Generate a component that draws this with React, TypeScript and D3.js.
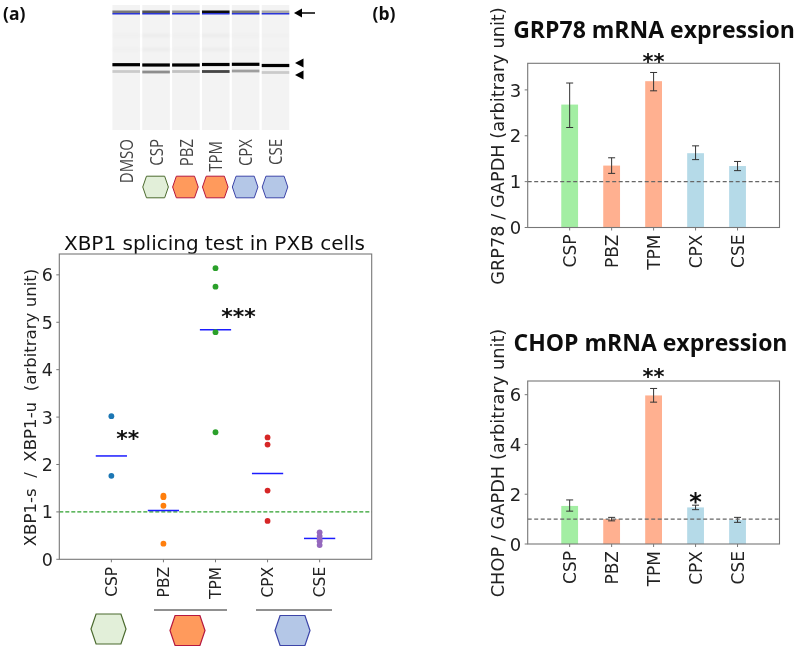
import React from "react";
import * as d3 from "d3";

const scatterCats = ["CSP", "PBZ", "TPM", "CPX", "CSE"];
const scatterColors = ["#1f77b4", "#ff7f0e", "#2ca02c", "#d62728", "#9467bd"];
const scatterPoints = [
  [3.02, 1.76],
  [1.34, 1.31, 1.13, 0.33],
  [6.14, 5.75, 4.79, 2.68],
  [2.57, 2.42, 1.45, 0.81],
  [0.57, 0.49, 0.42, 0.38, 0.3],
];
const scatterMeans = [2.18, 1.03, 4.84, 1.81, 0.44];

const barCats = ["CSP", "PBZ", "TPM", "CPX", "CSE"];
const barColors = ["#a3eea3", "#ffb090", "#ffb090", "#b5dae8", "#b5dae8"];
const grpValues = [2.68, 1.35, 3.19, 1.62, 1.34];
const grpHigh = [3.15, 1.52, 3.38, 1.78, 1.44];
const grpLow = [2.18, 1.18, 2.98, 1.48, 1.24];
const chopValues = [1.53, 1.0, 5.97, 1.47, 0.97];
const chopHigh = [1.77, 1.07, 6.25, 1.56, 1.07];
const chopLow = [1.32, 0.93, 5.7, 1.38, 0.87];

const gelLanes = ["DMSO", "CSP", "PBZ", "TPM", "CPX", "CSE"];
const gelTop = [0.5, 0.65, 0.4, 0.95, 0.5, 0.3];
const gelMainY = [64.7, 65, 65, 64.5, 64.3, 65.5];
const gelLow = [0.17, 0.42, 0.2, 0.72, 0.35, 0.17];
const gelLowY = [71.5, 72, 71.5, 71.5, 71, 72.5];
const gelFaint = [0.015, 0.035, 0.015, 0.035, 0.015, 0.012];
const gelLabelY = [139, 139, 139, 141, 139, 139];
const laneHex = [null, ["#e2efd9", "#4b6a2e"], ["#ff9a5c", "#b5173f"], ["#ff9a5c", "#b5173f"], ["#b4c7e7", "#3c44a8"], ["#b4c7e7", "#3c44a8"]];

const INK = "#222";
const FRAME = "#777";
const SANS = "'DejaVu Sans', sans-serif";
const OPEN = "'Open Sans', sans-serif";

function hexPoints(cx: number, cy: number, rx: number, ry: number) {
  const d = rx * 0.29;
  return [
    [cx - rx, cy],
    [cx - rx + d, cy - ry],
    [cx + rx - d, cy - ry],
    [cx + rx, cy],
    [cx + rx - d, cy + ry],
    [cx - rx + d, cy + ry],
  ].join(" ");
}

function Frame({ x0, x1, y0, y1, y, ticks, tickSize, xs, cats, labelSize, labelY, ylabel, ylabelX, ylabelY, ylabelSize }: any) {
  return (
    <g fontFamily={SANS} fill={INK}>
      <rect x={x0} y={y0} width={x1 - x0} height={y1 - y0} fill="none" stroke={FRAME} strokeWidth={1.1} />
      {ticks.map((t: number) => (
        <g key={t}>
          <line x1={x0 - 3} x2={x0} y1={y(t)} y2={y(t)} stroke={FRAME} />
          <text x={x0 - 6.5} y={y(t)} dy="0.37em" textAnchor="end" fontSize={tickSize}>{t}</text>
        </g>
      ))}
      {cats.map((c: string, i: number) => (
        <g key={c}>
          <line x1={xs(i)} x2={xs(i)} y1={y1} y2={y1 + 3} stroke={FRAME} />
          <text transform={`translate(${xs(i)},${labelY}) rotate(-90)`} dy="0.37em" textAnchor="end" fontSize={labelSize}>{c}</text>
        </g>
      ))}
      <text transform={`translate(${ylabelX},${ylabelY}) rotate(-90)`} textAnchor="middle" fontSize={ylabelSize} xmlSpace="preserve">{ylabel}</text>
    </g>
  );
}

function BarPanel({ title, titleY, titleX, y0, y1, domainMax, ticks, values, high, low, ylabel, ylabelY, stars }: any) {
  const x0 = 527.7, x1 = 779.5;
  const xs = d3.scaleLinear().domain([-1, 5]).range([x0, x1]);
  const y = d3.scaleLinear().domain([0, domainMax]).range([y1, y0]);
  return (
    <g>
      <text x={titleX} y={titleY} textAnchor="middle" fontFamily={OPEN} fontWeight={700} fontSize={23} fill="#111">{title}</text>
      {values.map((v: number, i: number) => (
        <rect key={i} x={xs(i) - 8.4} width={16.8} y={y(v)} height={y1 - y(v)} fill={barColors[i]} />
      ))}
      {values.map((_: number, i: number) => (
        <g key={i} stroke="#333" strokeWidth={1}>
          <line x1={xs(i)} x2={xs(i)} y1={y(high[i])} y2={y(low[i])} />
          <line x1={xs(i) - 3.5} x2={xs(i) + 3.5} y1={y(high[i])} y2={y(high[i])} />
          <line x1={xs(i) - 3.5} x2={xs(i) + 3.5} y1={y(low[i])} y2={y(low[i])} />
        </g>
      ))}
      <line x1={x0} x2={x1} y1={y(1)} y2={y(1)} stroke="#666" strokeWidth={1.1} strokeDasharray="4 2.5" />
      <Frame x0={x0} x1={x1} y0={y0} y1={y1} y={y} ticks={ticks} tickSize={18} xs={xs} cats={barCats} labelSize={17} labelY={y1 + 7} ylabel={ylabel} ylabelX={504} ylabelY={ylabelY} ylabelSize={17.8} />
      {stars.map((s: any, i: number) => (
        <text key={i} x={xs(s.i)} y={y(s.v)} textAnchor="middle" fontFamily={SANS} fontWeight={700} fontSize={s.t === "*" ? 24 : 21} fill="#111">{s.t}</text>
      ))}
    </g>
  );
}

function ScatterPanel() {
  const x0 = 59.3, x1 = 371.7, y0 = 254, y1 = 559.3;
  const xs = d3.scaleLinear().domain([-1, 5]).range([x0, x1]);
  const y = d3.scaleLinear().domain([0, 6.44]).range([y1, y0]);
  return (
    <g>
      <text x={214.5} y={250} textAnchor="middle" fontFamily={SANS} fontSize={20} fill="#111">XBP1 splicing test in PXB cells</text>
      <line x1={x0} x2={x1} y1={y(1)} y2={y(1)} stroke="#2ca02c" strokeWidth={1.1} strokeDasharray="4 2" />
      {scatterMeans.map((m, i) => (
        <line key={i} x1={xs(i - 0.3)} x2={xs(i + 0.3)} y1={y(m)} y2={y(m)} stroke="#1c1cff" strokeWidth={1.5} />
      ))}
      {scatterPoints.map((pts, i) =>
        pts.map((p, j) => <circle key={j} cx={xs(i)} cy={y(p)} r={2.9} fill={scatterColors[i]} />)
      )}
      <Frame x0={x0} x1={x1} y0={y0} y1={y1} y={y} ticks={[0, 1, 2, 3, 4, 5, 6]} tickSize={17.5} xs={xs} cats={scatterCats} labelSize={15.5} labelY={y1 + 7.5} ylabel={"XBP1-s  /  XBP1-u  (arbitrary unit)"} ylabelX={36} ylabelY={407.5} ylabelSize={16.6} />
      <text x={xs(0) + 16.5} y={y(2.38)} textAnchor="middle" fontFamily={SANS} fontWeight={700} fontSize={22} fill="#111">**</text>
      <text x={xs(2) + 23} y={y(4.96)} textAnchor="middle" fontFamily={SANS} fontWeight={700} fontSize={22} fill="#111">***</text>
      <line x1={154} x2={227} y1={610} y2={610} stroke="#222" strokeWidth={1} />
      <line x1={256} x2={332} y1={610} y2={610} stroke="#222" strokeWidth={1} />
      <polygon points={hexPoints(108.5, 629, 17.5, 15)} fill="#e2efd9" stroke="#4b6a2e" strokeWidth={1.2} />
      <polygon points={hexPoints(187.5, 630.5, 17.5, 15)} fill="#ff9a5c" stroke="#b5173f" strokeWidth={1.2} />
      <polygon points={hexPoints(292.5, 630.5, 17.5, 15)} fill="#b4c7e7" stroke="#3c44a8" strokeWidth={1.2} />
    </g>
  );
}

function Gel() {
  const xs = d3.scaleLinear().domain([0, 5]).range([126.2, 275.5]);
  const w = 27.6;
  return (
    <g>
      <defs>
        <filter id="soft" x="-10%" y="-10%" width="120%" height="120%"><feGaussianBlur stdDeviation="0.7" /></filter>
        <filter id="softer" x="-10%" y="-200%" width="120%" height="500%"><feGaussianBlur stdDeviation="1.5" /></filter>
      </defs>
      {gelLanes.map((name, i) => {
        const cx = xs(i), l = cx - w / 2;
        return (
          <g key={name}>
            <rect x={l} y={5} width={w} height={125} fill="#f3f3f3" />
            <g filter="url(#softer)">
              <rect x={l} y={34} width={w} height={3} fill="#000" opacity={gelFaint[i]} />
              <rect x={l} y={48} width={w} height={3} fill="#000" opacity={gelFaint[i]} />
            </g>
            <g filter="url(#soft)">
              <rect x={l} y={10.5} width={w} height={2.7} fill="#000" opacity={gelTop[i]} />
              <rect x={l} y={gelMainY[i] - 1.6} width={w} height={3.2} fill="#000" />
              <rect x={l} y={gelLowY[i] - 1.4} width={w} height={2.8} fill="#000" opacity={gelLow[i]} />
            </g>
            <rect x={l} y={13} width={w} height={1.5} fill="#2a34d8" />
            <text transform={`translate(${cx},${gelLabelY[i]}) scale(1.2,1) rotate(-90)`} dy="0.37em" textAnchor="end" fontFamily={OPEN} fontSize={15} fill="#444">{name}</text>
            {laneHex[i] && <polygon points={hexPoints(cx - 0.5, 187, 12.8, 10.8)} fill={laneHex[i]![0]} stroke={laneHex[i]![1]} strokeWidth={1} />}
          </g>
        );
      })}
      <line x1={300} x2={315} y1={13} y2={13} stroke="#000" strokeWidth={1.5} />
      <polygon points="294,13 302,8.5 302,17.5" fill="#000" />
      <polygon points="295,63 303.5,58.5 303.5,67.5" fill="#000" />
      <polygon points="295,75 303.5,70.5 303.5,79.5" fill="#000" />
    </g>
  );
}

export default function App() {
  return (
    <svg width={798} height={650} style={{ position: "absolute", left: 0, top: 0, background: "#fff" }}>
      <defs>
        <filter id="page" x="0" y="0" width="100%" height="100%"><feGaussianBlur stdDeviation="0.35" /></filter>
      </defs>
      <g filter="url(#page)">
        <rect width={798} height={650} fill="#fff" />
        <text x={3} y={19.5} fontFamily={OPEN} fontWeight={700} fontSize={17.5} fill="#111">(a)</text>
        <text x={372.5} y={19.5} fontFamily={OPEN} fontWeight={700} fontSize={17.5} fill="#111">(b)</text>
        <Gel />
        <ScatterPanel />
        <BarPanel title="GRP78 mRNA expression" titleX={654} titleY={37.5} y0={63.3} y1={227.5} domainMax={3.58} ticks={[0, 1, 2, 3]} values={grpValues} high={grpHigh} low={grpLow} ylabel="GRP78 / GAPDH (arbitrary unit)" ylabelY={146} stars={[{ i: 2, v: 3.45, t: "**" }]} />
        <BarPanel title="CHOP mRNA expression" titleX={650.5} titleY={351} y0={381} y1={544} domainMax={6.55} ticks={[0, 2, 4, 6]} values={chopValues} high={chopHigh} low={chopLow} ylabel="CHOP / GAPDH (arbitrary unit)" ylabelY={463} stars={[{ i: 2, v: 6.43, t: "**" }, { i: 3, v: 1.35, t: "*" }]} />
      </g>
    </svg>
  );
}
